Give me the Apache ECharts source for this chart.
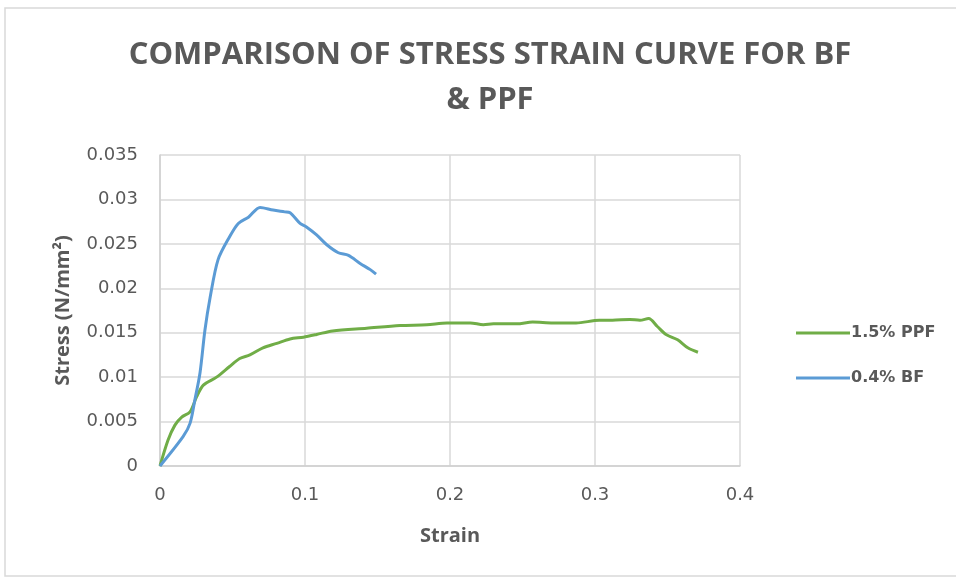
<!DOCTYPE html>
<html>
<head>
<meta charset="utf-8">
<script src="https://cdn.jsdelivr.net/npm/echarts@6/dist/echarts.min.js"></script>
<style>html,body{margin:0;padding:0;background:#fff;}#c{width:956px;height:579px;}</style>
</head>
<body>
<div id="c"></div>
<script>
const titleText = 'COMPARISON OF STRESS STRAIN CURVE FOR BF\n& PPF';
const xAxisName = 'Strain';
const yAxisName = 'Stress (N/mm²)';
const seriesNames = ['1.5% PPF', '0.4% BF'];

const ppfStrain = [0, 0.0055, 0.0103, 0.015, 0.0207, 0.0253, 0.0299, 0.039, 0.048, 0.055, 0.062, 0.071, 0.0805, 0.0897, 0.0989, 0.108, 0.119, 0.1425, 0.1655, 0.184, 0.198, 0.214, 0.223, 0.230, 0.246, 0.257, 0.271, 0.287, 0.303, 0.312, 0.324, 0.331, 0.337, 0.343, 0.349, 0.357, 0.364, 0.371];
const ppfStress = [0, 0.0029, 0.0046, 0.0055, 0.0061, 0.0078, 0.0091, 0.0100, 0.0112, 0.0121, 0.0125, 0.0133, 0.0138, 0.0143, 0.0145, 0.0148, 0.0152, 0.0155, 0.0158, 0.0159, 0.0161, 0.0161, 0.0159, 0.0160, 0.0160, 0.0162, 0.0161, 0.0161, 0.0164, 0.0164, 0.0165, 0.0164, 0.0166, 0.0157, 0.0148, 0.0142, 0.0133, 0.0128];

const bfStrain = [0, 0.0159, 0.0207, 0.024, 0.0276, 0.031, 0.0345, 0.040, 0.048, 0.054, 0.061, 0.069, 0.078, 0.086, 0.0897, 0.0966, 0.101, 0.108, 0.115, 0.123, 0.130, 0.138, 0.145, 0.149];
const bfStress = [0, 0.0033, 0.0048, 0.0074, 0.0105, 0.0153, 0.0189, 0.0232, 0.0258, 0.0273, 0.0280, 0.0291, 0.0288, 0.0286, 0.0285, 0.0273, 0.0269, 0.0260, 0.0249, 0.0240, 0.0237, 0.0228, 0.0221, 0.0216];

const xTicks = {min: 0, max: 0.4, interval: 0.1};
const yTicks = {min: 0, max: 0.035, interval: 0.005};

const zip = (a, b) => a.map((v, i) => [v, b[i]]);
const txt = '#595959';
const font = '"Open Sans", "Liberation Sans", sans-serif';
const wide = '"DejaVu Sans", sans-serif';

const chart = echarts.init(document.getElementById('c'));
chart.setOption({
  animation: false,
  backgroundColor: '#fff',
  textStyle: {fontFamily: font},
  title: {
    text: titleText,
    left: 490, textAlign: 'center', top: 33, padding: 0,
    textStyle: {fontFamily: font, fontSize: 31, fontWeight: 'bold', color: txt, lineHeight: 45}
  },
  graphic: [{
    type: 'rect', shape: {x: 5, y: 8, width: 960, height: 568},
    style: {fill: 'none', stroke: '#d9d9d9', lineWidth: 1.5}, silent: true
  }],
  legend: {
    orient: 'vertical', left: 796, top: 323, padding: 0,
    itemWidth: 54, itemHeight: 3, itemGap: 25,
    icon: 'rect',
    textStyle: {fontFamily: wide, fontSize: 16, fontWeight: 'bold', color: txt, lineHeight: 20, padding: [0, 0, 0, -4]},
    data: seriesNames
  },
  grid: {left: 160, right: 216, top: 155, bottom: 113},
  xAxis: {
    type: 'value', min: xTicks.min, max: xTicks.max, interval: xTicks.interval,
    name: xAxisName, nameLocation: 'middle', nameGap: 60,
    nameTextStyle: {fontFamily: font, fontSize: 20, fontWeight: 'bold', color: txt},
    axisLine: {show: true, lineStyle: {color: '#d0d0d0', width: 1.5}},
    axisTick: {show: false},
    axisLabel: {fontFamily: wide, fontSize: 18, color: txt, margin: 20},
    splitLine: {show: true, lineStyle: {color: '#d9d9d9', width: 1.5}}
  },
  yAxis: {
    type: 'value', min: yTicks.min, max: yTicks.max, interval: yTicks.interval,
    name: yAxisName, nameLocation: 'middle', nameGap: 87,
    nameTextStyle: {fontFamily: font, fontSize: 20, fontWeight: 'bold', color: txt, padding: [0, 0, 0, 0]},
    axisLine: {show: true, lineStyle: {color: '#d0d0d0', width: 1.5}},
    axisTick: {show: false},
    axisLabel: {fontFamily: wide, fontSize: 18, color: txt, margin: 22},
    splitLine: {show: true, lineStyle: {color: '#d9d9d9', width: 1.5}}
  },
  series: [
    {name: seriesNames[0], type: 'line', data: zip(ppfStrain, ppfStress), showSymbol: false, smooth: 0.3,
     lineStyle: {color: '#70ad47', width: 3}, itemStyle: {color: '#70ad47'}},
    {name: seriesNames[1], type: 'line', data: zip(bfStrain, bfStress), showSymbol: false, smooth: 0.3,
     lineStyle: {color: '#5b9bd5', width: 3}, itemStyle: {color: '#5b9bd5'}}
  ]
});
</script>
</body>
</html>
